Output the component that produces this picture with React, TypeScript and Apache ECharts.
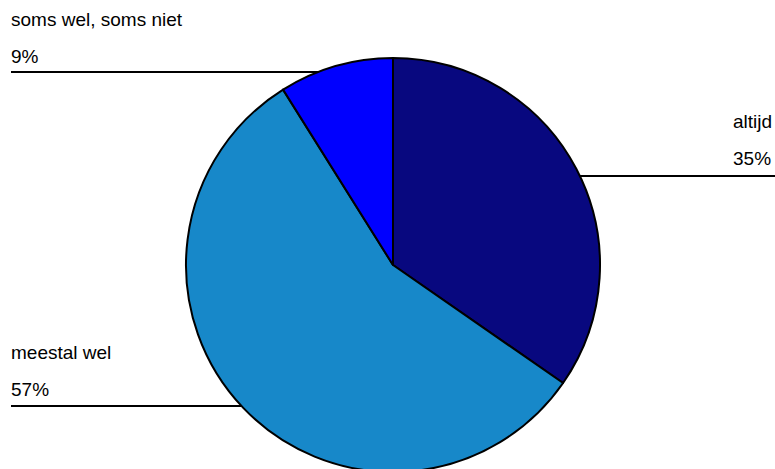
import React, { useEffect, useRef } from "react";
import * as echarts from "echarts";

const categories = ["altijd", "meestal wel", "soms wel, soms niet"];
const values = [35, 57, 9];
const sliceColors = ["#08087f", "#1788c9", "#0000ff"];

// label layout (pixels)
const labelX = [733, 11, 11];
const labelCenterY = [140, 371, 37.5];
const lineY = [176, 406, 72];
const lineEndX = [775, 11, 11];

const CX = 393;
const CY = 265;
const R = 207;

export default function App() {
  const ref = useRef<HTMLDivElement>(null);
  useEffect(() => {
    if (!ref.current) return;
    const chart = echarts.init(ref.current, undefined, { renderer: "svg" });
    chart.setOption({
      animation: false,
      backgroundColor: "#ffffff",
      series: [
        {
          type: "pie",
          center: [CX, CY],
          radius: R,
          startAngle: 90,
          clockwise: true,
          avoidLabelOverlap: false,
          data: categories.map((name, i) => ({
            name,
            value: values[i],
            itemStyle: { color: sliceColors[i] },
          })),
          itemStyle: { borderColor: "#000000", borderWidth: 2 },
          label: {
            show: true,
            position: "outside",
            formatter: (p: any) => `${p.name}\n${p.value}%`,
            fontFamily: "'Liberation Sans', Arial, sans-serif",
            fontSize: 19,
            lineHeight: 37,
            color: "#000000",
            align: "left",
          },
          labelLine: {
            show: true,
            lineStyle: { color: "#000000", width: 1.8 },
          },
          labelLayout: (params: any) => {
            const i = params.dataIndex;
            const ly = lineY[i];
            const dx = Math.sqrt(Math.max(0, R * R - (ly - CY) * (ly - CY)));
            const edgeX = lineEndX[i] > CX ? CX + dx : CX - dx;
            const endX = lineEndX[i];
            return {
              x: labelX[i],
              y: labelCenterY[i],
              align: "left",
              verticalAlign: "middle",
              labelLinePoints: [
                [edgeX, ly],
                [(edgeX + endX) / 2, ly],
                [endX, ly],
              ],
            };
          },
        },
      ],
    });
    return () => chart.dispose();
  }, []);
  return (
    <div
      ref={ref}
      style={{ position: "fixed", left: 0, top: 0, width: 775, height: 469 }}
    />
  );
}
